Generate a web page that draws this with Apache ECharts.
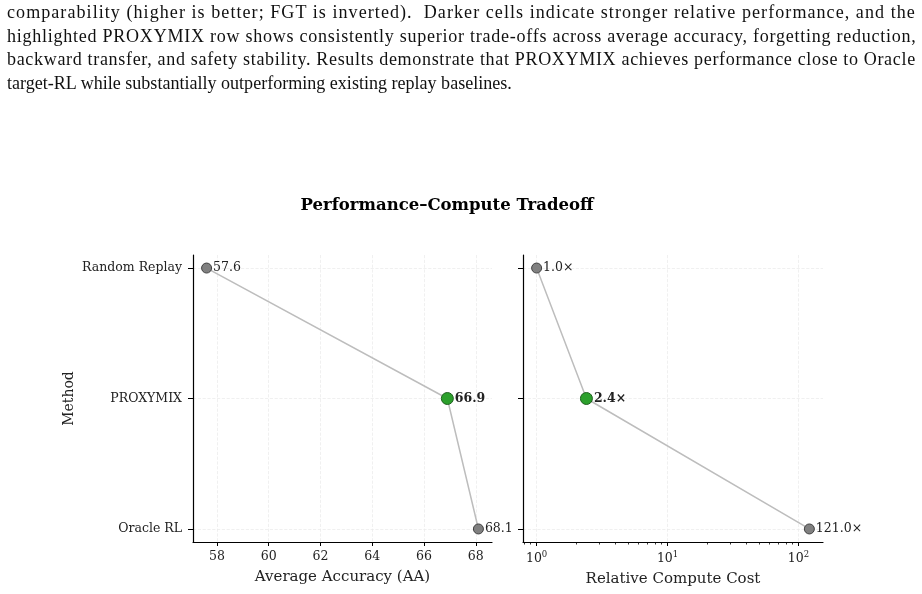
<!DOCTYPE html>
<html>
<head>
<meta charset="utf-8">
<script src="https://cdn.jsdelivr.net/npm/echarts@6/dist/echarts.min.js"></script>
<style>
  html, body { margin: 0; padding: 0; background: #fff; }
  #wrap { position: relative; width: 922px; height: 594px; overflow: hidden; }
  #chart { position: absolute; left: 0; top: 0; width: 922px; height: 594px; }
  #caption {
    position: absolute; left: 7px; top: 0px; width: 957px;
    font-family: "Liberation Serif", serif; font-size: 19px; line-height: 23.5px;
    color: #111; transform: scaleX(0.95); transform-origin: 0 0;
  }
  #caption div { white-space: nowrap; }
  #caption span { display: inline-block; }
</style>
</head>
<body>
<div id="wrap">
  <div id="chart"></div>
  <div id="caption">
    <div class="fill"><span>comparability (higher is better; FGT is inverted).&nbsp; Darker cells indicate stronger relative performance, and the</span></div>
    <div class="fill"><span>highlighted PROXYMIX row shows consistently superior trade-offs across average accuracy, forgetting reduction,</span></div>
    <div class="fill"><span>backward transfer, and safety stability. Results demonstrate that PROXYMIX achieves performance close to Oracle</span></div>
    <div><span>target-RL while substantially outperforming existing replay baselines.</span></div>
  </div>
</div>
<script>
// stretch the full caption lines by letter spacing, as the typeset original does
document.querySelectorAll('#caption .fill span').forEach(s => {
  const extra = 957 - s.offsetWidth;
  s.style.letterSpacing = (extra / s.textContent.length) + 'px';
});

// values
const methods = ['Random Replay', 'PROXYMIX', 'Oracle RL'];
const accuracy = [57.6, 66.9, 68.1];
const computeCost = [1.0, 2.4, 121.0];
const highlighted = 'PROXYMIX';
const accTicks = [58, 60, 62, 64, 66, 68];
const costTicks = [1, 10, 100];
const costMinorTicks = [0.8, 0.9, 2, 3, 4, 5, 6, 7, 8, 9, 20, 30, 40, 50, 60, 70, 80, 90];

const FONT = '"DejaVu Serif", serif';
const methodIdx = methods.map((_, i) => i);

function points(values, fmt) {
  return values.map((v, i) => {
    const hi = methods[i] === highlighted;
    return {
      value: [v, i],
      symbolSize: hi ? 12 : 10,
      itemStyle: { color: hi ? '#2ca02c' : '#808080', borderColor: hi ? '#1f5f1f' : '#404040', borderWidth: 1 },
      label: { formatter: fmt(v), fontWeight: hi ? 'bold' : 'normal' }
    };
  });
}

const gridLine = { show: true, lineStyle: { color: '#ececec', type: 'dashed', width: 0.8 } };
const axisLine = { show: true, onZero: false, lineStyle: { color: '#000', width: 1.2 } };

const yBase = {
  type: 'value', min: -0.1, max: 2.1, inverse: true,
  axisLine: axisLine,
  axisTick: { show: true, length: 5, customValues: methodIdx, lineStyle: { color: '#000' } },
  splitLine: gridLine
};

const chart = echarts.init(document.getElementById('chart'));
chart.setOption({
  animation: false,
  textStyle: { fontFamily: FONT },
  title: {
    text: 'Performance\u2013Compute Tradeoff', left: 442, top: 192, textAlign: 'center',
    textStyle: { fontFamily: FONT, fontSize: 16.5, fontWeight: 'bold', color: '#000' }
  },
  grid: [
    { left: 193, top: 255, width: 299, height: 287 },
    { left: 523, top: 255, width: 300, height: 287 }
  ],
  xAxis: [
    {
      gridIndex: 0, type: 'value', min: 57.075, max: 68.625,
      name: 'Average Accuracy (AA)', nameLocation: 'middle', nameGap: 28,
      nameTextStyle: { fontFamily: FONT, fontSize: 15, color: '#222' },
      axisLine: axisLine,
      axisTick: { show: true, length: 4, customValues: accTicks, lineStyle: { color: '#000' } },
      axisLabel: { customValues: accTicks, margin: 8, fontSize: 12.5, color: '#222', fontFamily: FONT },
      splitLine: gridLine
    },
    {
      gridIndex: 1, type: 'log', logBase: 10, min: 0.787, max: 153.8,
      name: 'Relative Compute Cost', nameLocation: 'middle', nameGap: 30,
      nameTextStyle: { fontFamily: FONT, fontSize: 15, color: '#222' },
      axisLine: axisLine,
      axisTick: { show: true, length: 4, customValues: costTicks, lineStyle: { color: '#000' } },
      axisLabel: {
        customValues: costTicks, margin: 8, fontSize: 12.5, color: '#222', fontFamily: FONT,
        formatter: v => '10{sup|' + Math.round(Math.log10(v)) + '}',
        rich: { sup: { fontSize: 8.5, fontFamily: FONT, color: '#222', padding: [0, 0, 9, 0] } }
      },
      splitLine: gridLine
    },
    {
      gridIndex: 1, type: 'log', logBase: 10, min: 0.787, max: 153.8, position: 'bottom',
      axisLine: { show: false, onZero: false },
      axisTick: { show: true, length: 2.5, customValues: costMinorTicks, lineStyle: { color: '#000', width: 0.8 } },
      axisLabel: { show: false },
      splitLine: { show: false }
    }
  ],
  yAxis: [
    Object.assign({}, yBase, {
      gridIndex: 0,
      name: 'Method', nameLocation: 'middle', nameGap: 117, nameRotate: 90,
      nameTextStyle: { fontFamily: FONT, fontSize: 14, color: '#222' },
      axisLabel: {
        customValues: methodIdx, margin: 11, fontSize: 12.5, color: '#222', fontFamily: FONT,
        formatter: v => methods[Math.round(v)]
      }
    }),
    Object.assign({}, yBase, {
      gridIndex: 1,
      axisLabel: { show: false }
    })
  ],
  series: [
    {
      type: 'line', xAxisIndex: 0, yAxisIndex: 0,
      data: points(accuracy, v => v.toFixed(1)),
      symbol: 'circle',
      lineStyle: { color: '#bdbdbd', width: 1.5 },
      label: { show: true, position: 'right', distance: 1, fontSize: 12.5, color: '#222', fontFamily: FONT }
    },
    {
      type: 'line', xAxisIndex: 1, yAxisIndex: 1,
      data: points(computeCost, v => v.toFixed(1) + '\u00d7'),
      symbol: 'circle',
      lineStyle: { color: '#bdbdbd', width: 1.5 },
      label: { show: true, position: 'right', distance: 1, fontSize: 12.5, color: '#222', fontFamily: FONT }
    }
  ]
});
</script>
</body>
</html>
